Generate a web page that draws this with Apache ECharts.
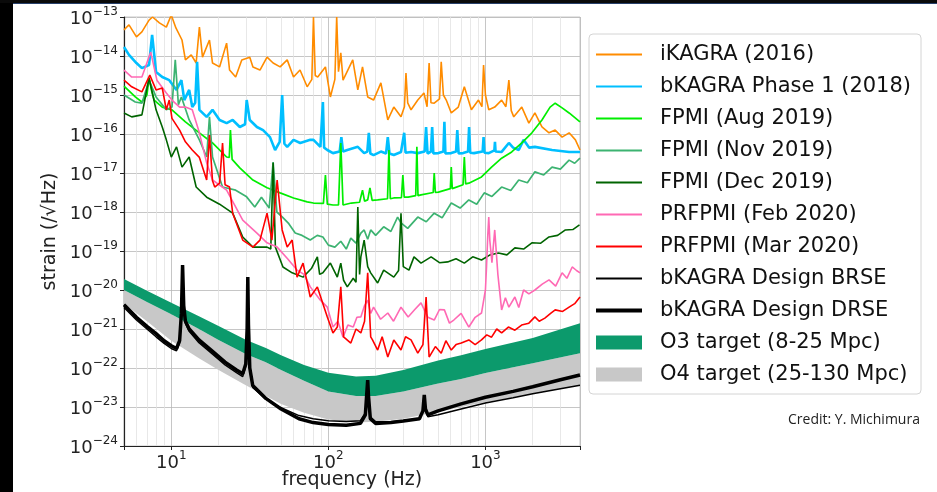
<!DOCTYPE html>
<html>
<head>
<meta charset="utf-8">
<script src="https://cdn.jsdelivr.net/npm/echarts@6/dist/echarts.min.js"></script>
<style>
html, body { margin: 0; padding: 0; background: #fff; }
#chart { width: 937px; height: 492px; }
</style>
</head>
<body>
<div id="chart"></div>
<script>
// values are [frequency in Hz, log10 of strain]
const ikagra = [[5,-13.33],[5.38,-13.2],[6.0,-13.51],[6.5,-13.38],[7.22,-13.08],[7.6,-13.0],[8.4,-13.15],[9.3,-13.26],[10,-12.95],[10.7,-13.28],[11.7,-13.59],[12.3,-14.1],[13.4,-13.97],[14.4,-14.18],[15.1,-13.26],[15.8,-14.03],[17.5,-13.59],[18.3,-14.18],[20.3,-14.28],[22.5,-13.67],[23.5,-14.36],[25.7,-14.54],[28.1,-14.1],[31.6,-14.03],[33.1,-14.28],[36.7,-14.36],[40.7,-14.03],[44.5,-14.18],[49.3,-14.28],[54.7,-14.1],[60,-14.54],[66,-14.36],[73.3,-14.79],[78.5,-14.6],[80.4,-13.0],[82.5,-14.5],[85.6,-14.54],[95.8,-14.28],[103,-15.05],[110,-14.6],[113,-13.0],[116,-14.4],[120,-13.92],[124,-14.62],[143,-14.1],[154,-14.87],[165,-14.28],[178,-15.05],[194,-15.13],[216,-14.69],[239,-15.64],[261,-15.31],[290,-15.56],[305,-15.3],[312,-14.44],[320,-15.2],[336,-15.38],[371,-15.13],[406,-14.95],[425,-15.3],[438,-14.18],[450,-15.2],[472,-15.21],[510,-15.1],[523,-14.15],[540,-15.0],[563,-15.13],[606,-15.46],[672,-15.31],[734,-14.79],[814,-15.38],[903,-15.13],[950,-15.3],[973,-14.23],[1000,-15.0],[1050,-15.38],[1146,-15.31],[1268,-15.13],[1350,-15.3],[1410,-14.62],[1460,-15.4],[1515,-15.56],[1704,-15.31],[1890,-15.72],[2065,-15.46],[2290,-15.82],[2540,-15.97],[2780,-15.9],[3077,-16.08],[3410,-15.97],[3740,-16.15],[4000,-16.41]];

const bkagra = [[5,-13.77],[5.38,-13.97],[6.0,-14.18],[6.5,-14.31],[7.22,-14.23],[7.55,-13.46],[8.0,-14.41],[8.76,-14.54],[9.71,-14.62],[10.8,-14.87],[11.6,-14.62],[12.1,-15.13],[13.0,-14.87],[13.6,-15.31],[14.2,-15.2],[14.6,-14.15],[15.1,-15.38],[16.8,-15.56],[18.3,-15.38],[20.3,-15.64],[22.5,-15.72],[24.6,-15.64],[27.3,-15.82],[29.5,-15.75],[30.2,-15.13],[31.6,-15.64],[35.1,-15.82],[38.4,-15.9],[42.5,-16.08],[45.8,-16.41],[49,-16.2],[50.8,-15.0],[52.5,-16.25],[54.7,-16.33],[60,-16.15],[66.2,-16.23],[76.7,-16.15],[80.4,-16.15],[89,-16.33],[90.5,-16.3],[92.3,-15.18],[94,-16.35],[98.5,-16.41],[107,-16.49],[118,-16.45],[121,-16.08],[124,-16.45],[132,-16.41],[154,-16.33],[169,-16.49],[177,-16.45],[181,-15.97],[185,-16.5],[194,-16.54],[216,-16.45],[233,-16.5],[239,-16.08],[245,-16.5],[261,-16.54],[290,-16.46],[298,-16.5],[304,-15.97],[310,-16.48],[336,-16.46],[371,-16.49],[410,-16.45],[419,-15.82],[428,-16.5],[438,-16.54],[450,-16.45],[458,-15.82],[466,-16.5],[502,-16.49],[540,-16.45],[548,-15.69],[556,-16.5],[606,-16.49],[650,-16.45],[662,-15.9],[675,-16.5],[721,-16.49],[775,-16.45],[787,-15.82],[800,-16.48],[846,-16.49],[960,-16.45],[973,-16.08],[986,-16.48],[1050,-16.49],[1140,-16.42],[1150,-16.2],[1160,-16.45],[1268,-16.46],[1410,-16.23],[1500,-16.35],[1630,-16.41],[1750,-16.15],[1900,-16.35],[2065,-16.33],[2655,-16.41],[3410,-16.46],[4000,-16.46]];

const fpmiAug = [[5,-14.77],[5.9,-15.05],[6.5,-15.18],[7.0,-15.0],[7.22,-14.56],[7.5,-14.9],[7.78,-15.13],[8.76,-15.31],[10.1,-15.38],[12.3,-15.69],[15.1,-15.97],[18.3,-16.23],[22.5,-16.59],[23.4,-16.6],[23.8,-15.9],[24.4,-16.65],[27.3,-16.87],[33.1,-17.18],[40.7,-17.38],[49.3,-17.51],[60,-17.64],[73.3,-17.74],[80.4,-17.77],[93,-17.78],[95.8,-17.05],[98.5,-17.8],[107,-17.82],[116,-17.82],[120,-16.23],[124,-17.82],[140,-17.77],[158,-17.75],[165,-17.44],[170,-17.72],[178,-17.69],[184,-17.38],[190,-17.7],[206,-17.69],[238,-17.66],[243,-16.41],[248,-17.66],[261,-17.64],[292,-17.63],[298,-17.05],[304,-17.62],[322,-17.62],[360,-17.58],[366,-16.33],[372,-17.58],[389,-17.56],[465,-17.5],[472,-17.0],[480,-17.5],[502,-17.49],[598,-17.4],[606,-16.85],[615,-17.4],[629,-17.36],[720,-17.3],[734,-16.59],[748,-17.28],[784,-17.26],[944,-17.1],[1094,-16.85],[1268,-16.62],[1470,-16.46],[1704,-16.23],[1976,-15.97],[2290,-15.64],[2580,-15.31],[2780,-15.21],[3077,-15.33],[3410,-15.46],[4000,-15.69]];

const fpmiNov = [[5,-15.0],[5.9,-15.18],[6.5,-15.21],[7.22,-14.62],[8.0,-15.05],[9.3,-15.38],[10.1,-15.31],[10.6,-14.1],[11.1,-15.25],[11.6,-15.05],[13.0,-15.64],[15.1,-16.15],[16.8,-16.59],[17.5,-15.56],[18.3,-16.59],[21.2,-17.36],[25.7,-17.44],[30,-17.6],[34,-17.87],[37.5,-17.62],[42,-17.9],[44.5,-16.72],[47,-18.0],[51,-18.13],[56,-18.3],[61.5,-18.54],[68,-18.6],[76.7,-18.72],[85,-18.6],[92.3,-18.64],[100,-18.85],[110,-18.9],[120,-18.75],[130,-18.95],[139,-18.67],[150,-18.8],[161,-18.54],[169,-18.46],[178,-18.7],[186,-18.46],[200,-18.6],[225,-18.38],[250,-18.5],[276,-18.13],[290,-18.28],[320,-18.42],[371,-18.13],[420,-18.25],[472,-18.03],[530,-18.15],[606,-17.77],[690,-17.9],[784,-17.69],[880,-17.8],[983,-17.51],[1100,-17.6],[1268,-17.36],[1450,-17.45],[1630,-17.18],[1850,-17.25],[2065,-16.97],[2350,-17.05],[2655,-16.85],[3000,-16.9],[3410,-16.67],[3700,-16.75],[4000,-16.62]];

const fpmiDec = [[5,-15.46],[5.6,-15.56],[6.5,-15.51],[7.22,-14.56],[8.0,-15.38],[8.76,-15.82],[9.3,-16.15],[10,-16.59],[10.8,-16.33],[11.7,-16.85],[13.0,-16.59],[14.4,-17.36],[16.8,-17.62],[20.3,-17.8],[24.6,-18.03],[28.5,-18.64],[33.1,-18.9],[40.7,-18.9],[43,-18.95],[44.5,-16.74],[46,-18.9],[51.4,-19.41],[58.8,-19.56],[69,-19.67],[78,-19.45],[85.1,-19.15],[88,-19.6],[92.3,-19.56],[103,-19.31],[114,-19.67],[120,-19.31],[125,-19.75],[132,-19.92],[144,-19.7],[150,-19.8],[154,-17.87],[158,-19.6],[161,-19.15],[169,-18.72],[178,-19.4],[186,-19.56],[206,-19.82],[225,-19.49],[261,-19.67],[280,-19.5],[290,-18.03],[300,-19.4],[326,-19.49],[351,-19.15],[389,-19.31],[451,-19.15],[510,-19.3],[575,-19.28],[650,-19.2],[734,-19.31],[830,-19.15],[944,-19.23],[1070,-19.1],[1210,-19.05],[1370,-19.1],[1540,-18.92],[1750,-18.95],[1976,-18.79],[2250,-18.8],[2540,-18.64],[2880,-18.6],[3230,-18.46],[3600,-18.45],[3970,-18.33]];

const prfpmiFeb = [[5,-14.36],[5.6,-14.54],[6.5,-14.54],[7.4,-13.9],[8.1,-14.62],[9.3,-14.95],[10.1,-15.13],[11.3,-15.31],[12.3,-15.31],[13.6,-15.38],[15.1,-15.97],[16.8,-16.74],[18.3,-17.18],[22.5,-17.44],[28.5,-18.21],[35.1,-18.54],[40.7,-18.79],[47.2,-18.9],[55,-19.2],[63.2,-19.49],[70,-19.6],[76.7,-19.92],[89,-20.26],[98.5,-20.44],[107,-20.95],[115,-20.8],[124,-21.21],[133,-20.9],[144,-20.95],[152,-20.7],[161,-20.69],[170,-20.4],[178,-20.26],[186,-20.6],[194,-20.44],[215,-20.75],[239,-20.59],[260,-20.8],[290,-20.44],[322,-20.69],[355,-20.5],[389,-20.33],[430,-20.7],[472,-20.77],[510,-20.5],[548,-20.51],[590,-20.85],[629,-20.77],[700,-20.6],[784,-20.95],[860,-20.7],[944,-20.59],[1000,-20.0],[1016,-19.41],[1035,-18.6],[1050,-18.13],[1066,-18.72],[1100,-19.3],[1146,-18.46],[1200,-19.6],[1268,-20.51],[1340,-20.2],[1410,-20.44],[1540,-20.18],[1630,-20.45],[1750,-20.0],[1890,-20.1],[2065,-20.0],[2300,-19.85],[2540,-19.74],[2800,-19.9],[3077,-19.56],[3300,-19.7],[3568,-19.41],[3800,-19.5],[4000,-19.56]];

const prfpmiMar = [[5,-14.62],[5.6,-14.79],[6.5,-14.92],[7.3,-14.49],[8.0,-14.87],[8.76,-14.82],[9.3,-15.38],[9.71,-15.13],[10.1,-15.6],[11.3,-15.9],[12.3,-16.2],[13.6,-16.41],[15.1,-16.6],[16.8,-17.18],[17.5,-16.03],[18.3,-17.2],[18.9,-17.36],[20.3,-17.26],[21.2,-16.23],[22,-17.3],[23.5,-17.36],[24.6,-18.03],[28.5,-18.72],[33.1,-18.9],[36.7,-18.72],[40.7,-18.03],[43.7,-18.72],[47.2,-17.18],[50.8,-18.46],[54.7,-18.9],[58.8,-18.72],[63.2,-19.67],[69,-19.31],[76.7,-20.18],[85.1,-19.92],[98.5,-20.69],[107,-21.1],[114,-20.95],[120,-19.92],[125,-21.2],[139,-21.36],[150,-21.0],[161,-21.1],[170,-20.8],[178,-19.56],[186,-21.2],[191,-21.28],[206,-21.54],[220,-21.2],[239,-21.72],[261,-21.28],[290,-21.54],[310,-21.2],[336,-21.28],[371,-21.62],[400,-21.4],[419,-20.18],[438,-21.72],[480,-21.45],[523,-21.62],[560,-21.3],[606,-21.54],[650,-21.4],[702,-21.36],[784,-21.28],[860,-21.4],[944,-21.28],[1020,-21.15],[1094,-21.21],[1180,-21.0],[1268,-21.1],[1400,-20.95],[1540,-21.03],[1700,-20.9],[1890,-20.85],[2065,-20.69],[2200,-20.8],[2390,-20.72],[2600,-20.6],[2780,-20.51],[3100,-20.55],[3410,-20.44],[3700,-20.35],[4000,-20.18]];

const designBrse = [[5,-20.45],[6,-20.77],[7,-21.0],[8,-21.2],[9,-21.37],[10,-21.5],[10.8,-21.56],[11.3,-21.35],[11.6,-20.65],[11.8,-19.4],[12.0,-20.45],[12.3,-20.85],[13,-21.06],[15,-21.35],[18,-21.62],[22,-21.92],[26,-22.12],[28.5,-22.22],[29.8,-21.95],[30.4,-21.05],[30.7,-19.7],[31.0,-20.95],[31.6,-22.05],[33,-22.5],[40,-22.8],[50,-23.02],[65,-23.22],[80,-23.3],[100,-23.35],[130,-23.37],[160,-23.35],[172,-23.15],[176,-22.6],[178,-22.35],[180,-22.7],[185,-23.25],[200,-23.38],[250,-23.38],[300,-23.35],[380,-23.3],[400,-23.12],[408,-22.75],[415,-23.08],[430,-23.25],[500,-23.2],[700,-23.05],[1000,-22.9],[1500,-22.76],[2000,-22.66],[3000,-22.53],[4000,-22.44]];

const designDrse = [[5,-20.38],[6,-20.7],[7,-20.93],[8,-21.12],[9,-21.3],[10,-21.43],[10.8,-21.5],[11.3,-21.3],[11.6,-20.6],[11.8,-19.36],[12.0,-20.4],[12.3,-20.8],[13,-21.0],[15,-21.28],[18,-21.55],[22,-21.85],[26,-22.05],[28.5,-22.15],[29.8,-21.9],[30.4,-21.0],[30.7,-19.67],[31.0,-20.9],[31.6,-22.0],[33,-22.45],[40,-22.78],[50,-23.05],[65,-23.3],[80,-23.4],[100,-23.45],[130,-23.47],[160,-23.42],[172,-23.2],[176,-22.6],[178,-22.31],[180,-22.7],[185,-23.3],[200,-23.42],[250,-23.4],[300,-23.36],[380,-23.3],[400,-23.1],[408,-22.69],[415,-23.05],[430,-23.2],[500,-23.1],[700,-22.92],[1000,-22.75],[1500,-22.6],[2000,-22.48],[3000,-22.3],[4000,-22.18]];

// target bands, log10 strain at bandFreq
const bandFreq = [5,7,10,15,20,30,40,50,70,100,150,200,300,500,700,1000,2000,4000];
const o4Low  = [-20.35,-20.8,-21.3,-21.75,-22.05,-22.45,-22.72,-22.92,-23.15,-23.32,-23.4,-23.38,-23.3,-23.12,-23.0,-22.88,-22.66,-22.44];
const o3Low  = [-20.0,-20.31,-20.62,-21.0,-21.28,-21.65,-21.85,-22.05,-22.33,-22.6,-22.72,-22.72,-22.6,-22.4,-22.28,-22.13,-21.88,-21.62];
const o3High = [-19.72,-20.02,-20.33,-20.67,-20.92,-21.28,-21.49,-21.67,-21.92,-22.12,-22.22,-22.2,-22.05,-21.81,-21.67,-21.51,-21.23,-20.85];

const minorFreq = [6,7,8,9,20,30,40,50,60,70,80,90,200,300,400,500,600,700,800,900,2000,3000];

// ECharts rounds tiny log-axis bounds to 0, so strain is plotted in units of 1e-24
const UNIT = 24;
const FONT = 'DejaVu Sans';
const chart = echarts.init(document.getElementById('chart'));

const lin = e => Math.pow(10, e + UNIT);
const toData = pts => pts.map(p => [p[0], lin(p[1])]);

function powLabel(v, shift) {
  const lg = Math.log10(v);
  const e = Math.round(lg);
  if (Math.abs(lg - e) > 1e-6) return '';
  return '{b|10}{s|' + String(e - shift).replace('-', '\u2212') + '}';
}

const labelRich = {
  b: { fontSize: 18, fontFamily: FONT, color: '#222', padding: [4, 0, 0, 0] },
  s: { fontSize: 12, fontFamily: FONT, color: '#222', verticalAlign: 'top' }
};

// legend line icons, drawn as thin bars inside a 46x14 box
const thinIcon = 'path://M0,0M0,6L46,6L46,8L0,8ZM46,14';
const thickIcon = 'path://M0,0M0,5L46,5L46,9L0,9ZM46,14';

const curves = [
  ['iKAGRA (2016)', '#ff8c00', 1.6, ikagra],
  ['bKAGRA Phase 1 (2018)', '#00bfff', 2.6, bkagra],
  ['FPMI (Aug 2019)', '#00ee00', 1.7, fpmiAug],
  ['FPMI (Nov 2019)', '#3cb371', 1.7, fpmiNov],
  ['FPMI (Dec 2019)', '#006400', 1.6, fpmiDec],
  ['PRFPMI (Feb 2020)', '#ff69b4', 1.6, prfpmiFeb],
  ['PRFPMI (Mar 2020)', '#ff0000', 1.6, prfpmiMar],
  ['bKAGRA Design BRSE', '#000000', 1.5, designBrse],
  ['bKAGRA Design DRSE', '#000000', 3.5, designDrse]
];

// band polygon: upper edge left to right, lower edge back
function bandItem(params, api) {
  if (params.dataIndexInside !== 0) return null;
  const top = [], bottom = [];
  for (let i = 0; i < params.dataInsideLength; i++) {
    const f = api.value(0, i);
    top.push(api.coord([f, api.value(2, i)]));
    bottom.push(api.coord([f, api.value(1, i)]));
  }
  return {
    type: 'polygon',
    shape: { points: top.concat(bottom.reverse()) },
    style: { fill: api.visual('color') }
  };
}

const series = [
  {
    name: 'O4 target (25-130 Mpc)', type: 'custom', renderItem: bandItem, z: 1,
    itemStyle: { color: '#c8c8c8' }, encode: { x: 0, y: [1, 2] },
    data: bandFreq.map((f, i) => [f, lin(o4Low[i]), lin(o3Low[i])])
  },
  {
    name: 'O3 target (8-25 Mpc)', type: 'custom', renderItem: bandItem, z: 1,
    itemStyle: { color: '#0c9a6c' }, encode: { x: 0, y: [1, 2] },
    data: bandFreq.map((f, i) => [f, lin(o3Low[i]), lin(o3High[i])])
  }
];

curves.forEach((c, k) => {
  const s = {
    name: c[0], type: 'line', data: toData(c[3]), symbol: 'none', showSymbol: false, color: c[1],
    lineStyle: { color: c[1], width: c[2] }, z: c[1] === '#000000' ? 3 : 2
  };
  if (k === 0) {
    // light minor grid lines at 2..9 x each decade
    s.markLine = {
      silent: true, symbol: 'none', label: { show: false }, animation: false, z: 0,
      lineStyle: { color: '#e2e2e2', width: 0.8, type: 'solid' },
      data: minorFreq.map(v => ({ xAxis: v }))
    };
  }
  series.push(s);
});

chart.setOption({
  animation: false,
  backgroundColor: '#fff',
  grid: {
    left: 124, right: 357, top: 17, bottom: 46,
    outerBoundsMode: 'none', containLabel: false,
    show: true, borderColor: '#c8c8c8', borderWidth: 1
  },
  xAxis: {
    type: 'log', logBase: 10, min: 5, max: 4000, splitNumber: 3,
    name: 'frequency (Hz)', nameLocation: 'middle', nameGap: 25, nameMoveOverlap: false,
    nameTextStyle: { fontSize: 19, fontFamily: FONT, color: '#222' },
    axisLine: { onZero: false, lineStyle: { color: '#222', width: 1.2 } },
    axisTick: { length: 4, lineStyle: { color: '#222' } },
    axisLabel: { margin: 4, formatter: v => powLabel(v, 0), rich: labelRich },
    splitLine: { show: true, lineStyle: { color: '#b8b8b8', width: 0.8 } }
  },
  yAxis: {
    type: 'log', logBase: 10, min: 1, max: 1e11, interval: 1,
    name: 'strain (/\u221AHz)', nameLocation: 'middle', nameGap: 64, nameRotate: 90,
    nameTextStyle: { fontSize: 19, fontFamily: FONT, color: '#222' },
    axisLine: { onZero: false, lineStyle: { color: '#222', width: 1.2 } },
    axisTick: { length: 4, lineStyle: { color: '#222' } },
    axisLabel: { margin: 6, formatter: v => powLabel(v, UNIT), rich: labelRich },
    splitLine: { show: true, lineStyle: { color: '#b8b8b8', width: 0.8 } }
  },
  legend: {
    orient: 'vertical', left: 589, top: 34,
    padding: [10, 10, 9, 7], itemGap: 11, itemWidth: 46, itemHeight: 14,
    backgroundColor: '#fff', borderColor: '#d4d4d4', borderWidth: 1, borderRadius: 4,
    textStyle: { fontSize: 21, fontFamily: FONT, color: '#111', padding: [0, 0, 0, 13] },
    selectedMode: false,
    data: curves.map(c => ({ name: c[0], icon: c[2] > 3 ? thickIcon : thinIcon })).concat([
      { name: 'O3 target (8-25 Mpc)', icon: 'rect' },
      { name: 'O4 target (25-130 Mpc)', icon: 'rect' }
    ])
  },
  graphic: [
    { type: 'rect', left: 0, top: 0, shape: { width: 13, height: 492 }, style: { fill: '#000' }, z: 100 },
    { type: 'rect', left: 0, top: 0, shape: { width: 937, height: 3 }, style: { fill: '#0a0a0a' }, z: 100 },
    { type: 'rect', left: 13, top: 3, shape: { width: 924, height: 1 }, style: { fill: '#27406a' }, z: 100 },
    {
      type: 'text', left: 788, top: 413,
      style: { text: 'Credit: Y. Michimura', fontSize: 14, fontFamily: 'Open Sans', fill: '#222' }
    }
  ],
  series: series
});
</script>
</body>
</html>
